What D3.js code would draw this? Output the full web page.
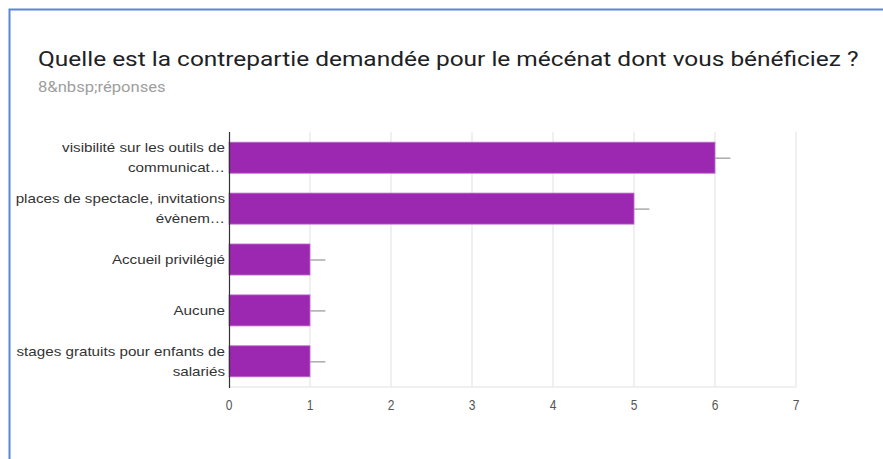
<!DOCTYPE html>
<html>
<head>
<meta charset="utf-8">
<script src="https://cdn.jsdelivr.net/npm/d3@7"></script>
<style>
  body { margin: 0; background: #fff; }
  svg { display: block; }
</style>
</head>
<body>
<div id="chart"></div>
<script>
// donnees
const categories = [
  ["visibilité sur les outils de", "communicat…"],
  ["places de spectacle, invitations", "évènem…"],
  ["Accueil privilégié"],
  ["Aucune"],
  ["stages gratuits pour enfants de", "salariés"]
];
const values = [6, 5, 1, 1, 1];
const ticks = [0, 1, 2, 3, 4, 5, 6, 7];

const W = 883, H = 459;
const margin = {top: 132, right: 87, bottom: 72, left: 229};
const width = W - margin.left - margin.right,
      height = H - margin.top - margin.bottom;
const sx = 1.17; // l'image d'origine est un peu etiree en largeur

const svg = d3.select("#chart").append("svg")
  .attr("width", W).attr("height", H);

// cadre bleu (haut + gauche)
svg.append("path")
  .attr("d", `M9.5,${H} V9.5 H${W}`)
  .attr("fill", "none").attr("stroke", "#5b85d6").attr("stroke-width", 2);

svg.append("text")
  .attr("transform", `translate(38,66) scale(${sx},1)`)
  .style("font-family", "Roboto, 'Noto Sans', sans-serif")
  .style("font-size", "20.9px").style("fill", "#202124")
  .text("Quelle est la contrepartie demandée pour le mécénat dont vous bénéficiez ?");

svg.append("text")
  .attr("transform", `translate(38,92) scale(${sx},1)`)
  .style("font-family", "Roboto, 'Noto Sans', sans-serif")
  .style("font-size", "14.2px").style("fill", "#9e9e9e")
  .text("8&nbsp;réponses");

const g = svg.append("g")
  .attr("transform", "translate(" + margin.left + "," + margin.top + ")");

let x = d3.scaleLinear().domain([0, 7]).range([0, width]);
let y = d3.scaleBand().domain(d3.range(values.length))
  .range([0, height]).paddingInner(0.39).paddingOuter(0.2);

// grille
g.append("g").selectAll("line")
  .data(ticks.slice(1))
  .enter().append("line")
  .attr("x1", d => x(d)).attr("x2", d => x(d))
  .attr("y1", 0).attr("y2", height)
  .attr("stroke", "#ebebeb").attr("stroke-width", 1.5);
g.append("line")
  .attr("x1", 0).attr("x2", width).attr("y1", height).attr("y2", height)
  .attr("stroke", "#ebebeb").attr("stroke-width", 1.5);

// barres
g.append("g").selectAll("rect")
  .data(values)
  .enter().append("rect")
  .attr("x", 0)
  .attr("y", (d, i) => y(i))
  .attr("width", d => x(d))
  .attr("height", y.bandwidth())
  .attr("fill", "#9c27b0")
  .attr("stroke", "#c070d0").attr("stroke-width", 0.8);

// petits traits apres les barres
g.append("g").selectAll("line")
  .data(values)
  .enter().append("line")
  .attr("x1", d => x(d)).attr("x2", d => x(d + 0.19))
  .attr("y1", (d, i) => y(i) + y.bandwidth() / 2 + 0.5)
  .attr("y2", (d, i) => y(i) + y.bandwidth() / 2 + 0.5)
  .attr("stroke", "#aaa").attr("stroke-width", 1.5);

// axe vertical
g.append("line")
  .attr("x1", 0.5).attr("x2", 0.5).attr("y1", 0).attr("y2", height + 1)
  .attr("stroke", "#333").attr("stroke-width", 1.2);

// etiquettes des categories
const lbl = g.append("g").selectAll("text")
  .data(categories)
  .enter().append("text")
  .attr("text-anchor", "end")
  .attr("transform", (d, i) => `translate(-4,${y(i) + y.bandwidth() / 2}) scale(${sx},1)`)
  .style("font-family", "Arial, 'Liberation Sans', sans-serif")
  .style("font-size", "13px").style("fill", "#333");
lbl.each(function(lines) {
  const start = -(lines.length - 1) * 10 + 4.5;
  lines.forEach((t, k) => {
    d3.select(this).append("tspan")
      .attr("x", 0).attr("y", start + k * 20).text(t);
  });
});

// axe x
g.append("g").selectAll("text")
  .data(ticks)
  .enter().append("text")
  .attr("transform", d => `translate(${x(d)},${height + 23}) scale(0.8,1)`)
  .attr("text-anchor", "middle")
  .style("font-family", "Arial, 'Liberation Sans', sans-serif")
  .style("font-size", "15px").style("fill", "#555")
  .text(d => d);
</script>
</body>
</html>
